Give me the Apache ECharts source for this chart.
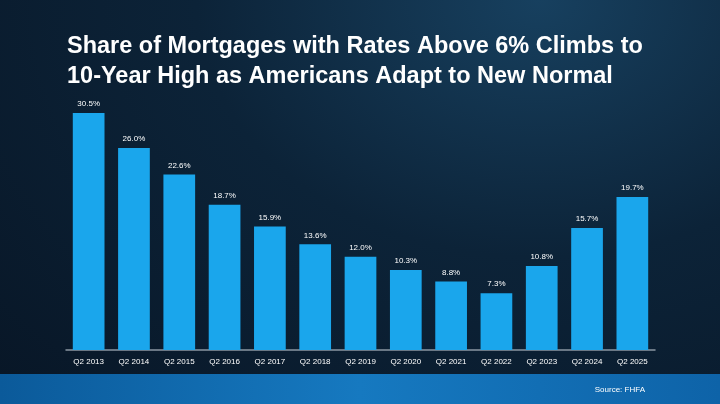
<!DOCTYPE html><html><head><meta charset="utf-8"><script src="https://cdn.jsdelivr.net/npm/echarts@6/dist/echarts.min.js"></script>
<style>html,body{margin:0;padding:0;}#c{width:720px;height:404px;background:radial-gradient(ellipse at 75% 0%,#17405f 0%,#0c2338 45%,#081626 100%);position:relative}
#band{position:absolute;left:0;top:374px;width:720px;height:30px;background:linear-gradient(90deg,#0b5a9a,#1679c0 50%,#0e63a8)}</style></head><body>
<div id="c"><div id="band"></div><div id="ch" style="position:absolute;left:0;top:0;width:720px;height:404px"></div></div>
<script>
const categories=["Q2 2013","Q2 2014","Q2 2015","Q2 2016","Q2 2017","Q2 2018","Q2 2019","Q2 2020","Q2 2021","Q2 2022","Q2 2023","Q2 2024","Q2 2025"];
const values=[30.5,26.0,22.6,18.7,15.9,13.6,12.0,10.3,8.8,7.3,10.8,15.7,19.7];
const chart=echarts.init(document.getElementById('ch'));
chart.setOption({
 title:[{text:"Share of Mortgages with Rates Above 6% Climbs to\n10-Year High as Americans Adapt to New Normal",left:62,top:27,textStyle:{color:'#fff',fontSize:23.5,fontWeight:'bold',fontFamily:'Liberation Sans',lineHeight:30}},
  {text:"Source: FHFA",right:70,top:381,textStyle:{color:'#fff',fontSize:8,fontWeight:'normal',fontFamily:'Liberation Sans'}}],
 grid:{left:66,right:65,top:113,bottom:54},
 xAxis:{type:'category',data:categories,axisLine:{lineStyle:{color:'#8a96a3',width:1.5}},axisTick:{show:false},axisLabel:{color:'#fff',fontSize:8,margin:8,fontFamily:'Liberation Sans'}},
 yAxis:{type:'value',min:0,max:30.5,show:false,splitLine:{show:false}},
 series:[{type:'bar',data:values,barCategoryGap:'30%',itemStyle:{color:'#1aa6ec'},label:{show:true,position:'top',color:'#fff',fontSize:8,distance:5,fontFamily:'Liberation Sans',formatter:p=>p.value.toFixed(1)+'%'}}],
 animation:false
});
</script></body></html>
